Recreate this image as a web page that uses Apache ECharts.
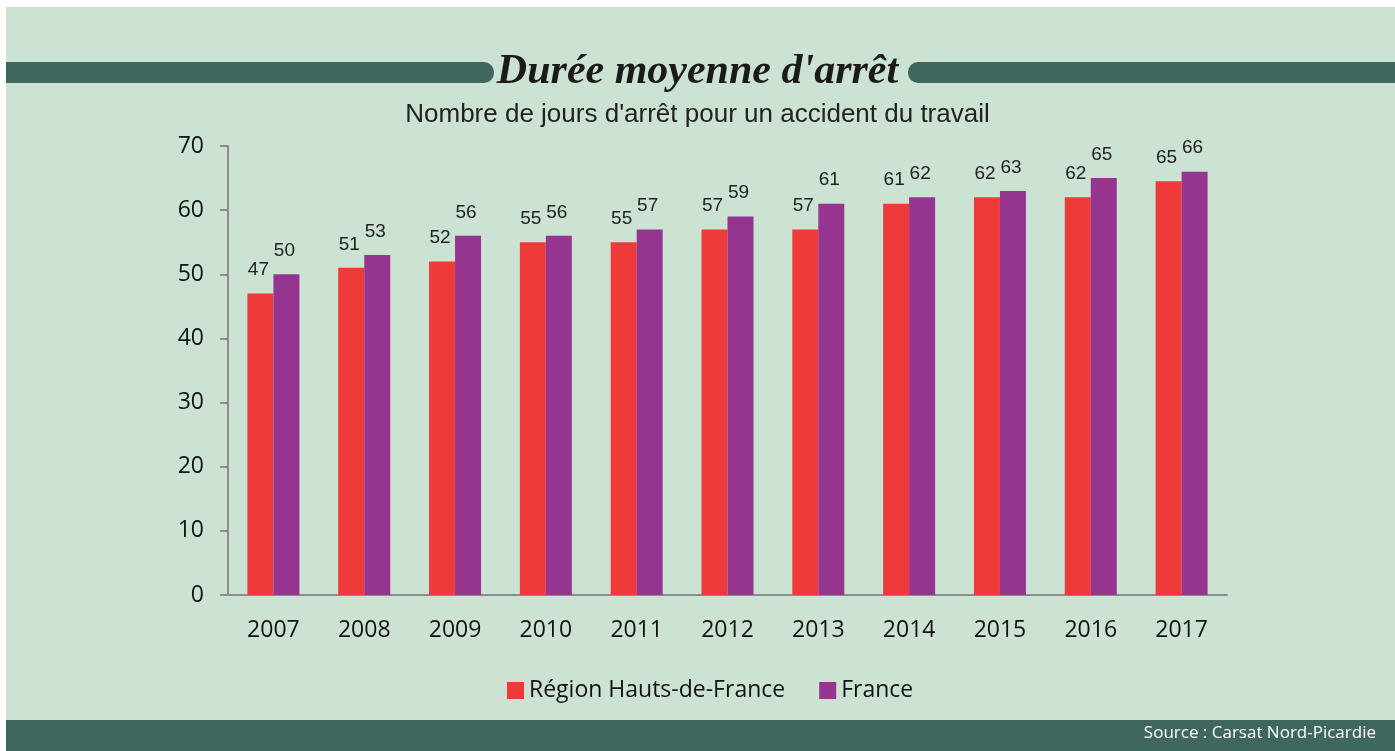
<!DOCTYPE html>
<html>
<head>
<meta charset="utf-8">
<style>
  html, body { margin: 0; padding: 0; background: #fff; }
  #chart { width: 1395px; height: 751px; }
</style>
<script src="https://cdn.jsdelivr.net/npm/echarts@6/dist/echarts.min.js"></script>
</head>
<body>
<div id="chart"></div>
<script>
// données
const years = ['2007', '2008', '2009', '2010', '2011', '2012', '2013', '2014', '2015', '2016', '2017']
const region = [47, 51, 52, 55, 55, 57, 57, 61, 62, 62, 64.5]
const france = [50, 53, 56, 56, 57, 59, 61, 62, 63, 65, 66]
const yTicks = [0, 10, 20, 30, 40, 50, 60, 70]

const bgGreen = '#cce3d4'
const darkGreen = '#3f675e'

const chart = echarts.init(document.getElementById('chart'))

const labelStyle = {
  show: true,
  position: 'top',
  distance: 14,
  offset: [-2, 0],
  fontFamily: 'Liberation Sans',
  fontSize: 19,
  color: '#222',
  formatter: p => Math.round(p.value)
}

const option = {
  backgroundColor: '#fff',
  animation: false,
  graphic: [
    // fond vert clair
    { type: 'rect', z: -10, shape: { x: 6, y: 7, width: 1389, height: 744 }, style: { fill: bgGreen } },
    // bandeaux du titre
    { type: 'rect', z: -5, shape: { x: 6, y: 62, width: 488, height: 21, r: [0, 10, 10, 0] }, style: { fill: darkGreen } },
    { type: 'rect', z: -5, shape: { x: 908, y: 62, width: 487, height: 21, r: [10, 0, 0, 10] }, style: { fill: darkGreen } },
    // bandeau du bas
    { type: 'rect', z: -5, shape: { x: 6, y: 720, width: 1389, height: 31 }, style: { fill: darkGreen } },
    {
      type: 'text', z: 10, right: 19, top: 725,
      style: { text: 'Source : Carsat Nord-Picardie', fill: '#fff', font: '17px "Open Sans"' }
    }
  ],
  title: [
    {
      text: "Durée moyenne d'arrêt",
      left: 'center',
      top: 46,
      textStyle: {
        fontFamily: 'Liberation Serif',
        fontStyle: 'italic',
        fontWeight: 'bold',
        fontSize: 42,
        color: '#1a1a1a'
      }
    },
    {
      text: "Nombre de jours d'arrêt pour un accident du travail",
      left: 'center',
      top: 97,
      textStyle: {
        fontFamily: 'Liberation Sans',
        fontWeight: 'normal',
        fontSize: 26,
        color: '#222'
      }
    }
  ],
  legend: {
    left: 502,
    top: 674,
    icon: 'rect',
    itemWidth: 17,
    itemHeight: 17,
    itemGap: 34,
    itemStyle: { borderWidth: 0 },
    textStyle: { fontFamily: 'Open Sans', fontSize: 23, color: '#111' },
    data: ['Région Hauts-de-France', 'France']
  },
  grid: { left: 228, right: 168, top: 146, bottom: 156 },
  xAxis: {
    type: 'category',
    data: years,
    axisLine: { lineStyle: { color: '#8c8c8c', width: 2 } },
    axisTick: { length: 8, lineStyle: { color: '#8c8c8c', width: 2 } },
    axisLabel: { fontFamily: 'Open Sans', fontSize: 23, color: '#111', margin: 24 }
  },
  yAxis: {
    type: 'value',
    min: yTicks[0],
    max: yTicks[yTicks.length - 1],
    interval: 10,
    axisLine: { show: true, lineStyle: { color: '#8c8c8c', width: 2 } },
    axisTick: { show: true, length: 8, lineStyle: { color: '#8c8c8c', width: 2 } },
    splitLine: { show: false },
    axisLabel: { fontFamily: 'Open Sans', fontSize: 23, color: '#111', margin: 24 }
  },
  series: [
    {
      name: 'Région Hauts-de-France',
      type: 'bar',
      data: region,
      barWidth: 26,
      barGap: '0%',
      itemStyle: { color: '#ef3a3a' },
      label: labelStyle
    },
    {
      name: 'France',
      type: 'bar',
      data: france,
      barWidth: 26,
      itemStyle: { color: '#943690' },
      label: labelStyle
    }
  ]
}

chart.setOption(option)
window.addEventListener('resize', () => chart.resize())
</script>
</body>
</html>
